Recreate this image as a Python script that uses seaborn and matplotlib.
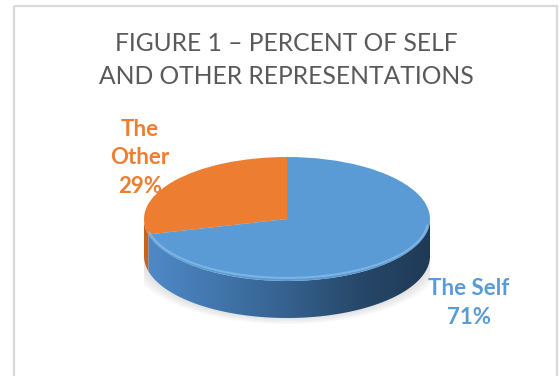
import numpy as np
import matplotlib
matplotlib.use("Agg")
import matplotlib.pyplot as plt
import seaborn as sns
from matplotlib.patches import Polygon, Rectangle, Ellipse
from matplotlib.colors import LinearSegmentedColormap

# ---- data ----
categories = ["The Other", "The Self"]
label_text = ["The\nOther", "The Self"]
values = [29, 71]
colors = ["#ED7D31", "#5B9BD5"]
side_colors = ["#C4641F", None]
title = "FIGURE 1 – PERCENT OF SELF\nAND OTHER REPRESENTATIONS"

sns.set_theme(style="white")
plt.rcParams["font.family"] = ["Lato", "DejaVu Sans"]

W, H = 560, 376
fig = plt.figure(figsize=(W / 100, H / 100), dpi=100)
fig.patch.set_facecolor("white")

# background / frame axes in pixel coordinates
bg = fig.add_axes([0, 0, 1, 1])
bg.set_xlim(0, W)
bg.set_ylim(H, 0)
bg.axis("off")
bg.add_patch(Rectangle((13.5, 5.5), 543, 390, fill=False, edgecolor="#D9D9D9", lw=1.6))

# pie geometry (pixels)
cx, cy, a, b, depth = 287, 219, 143, 62, 37
d = depth / b
ylo, yhi = -1 - d - 0.25, 1.1
ax = fig.add_axes([(cx - a) / W, (H - (cy - ylo * b)) / H, 2 * a / W, (yhi - ylo) * b / H])
ax.set_zorder(2)

# soft shadow under the pie
for i, al in enumerate([0.05, 0.05, 0.05, 0.05]):
    s = 1.0 + 0.025 * (4 - i)
    ax.add_patch(Ellipse((0.0, -d - 0.02), 2 * s, 2 * s * 0.98, facecolor="#808080",
                         alpha=al, edgecolor="none", zorder=0))

wedges, _ = ax.pie(values, colors=colors, startangle=90, counterclock=True, radius=1,
                   wedgeprops=dict(linewidth=0, zorder=3))
for w in wedges:
    w.set_clip_on(False)

blue_side = LinearSegmentedColormap.from_list(
    "side", ["#4F8BC9", "#4276AD", "#35618E", "#27486A", "#1F3A56"])

for w, sc in zip(wedges, side_colors):
    t1, t2 = w.theta1 % 360, w.theta2 % 360
    if t2 <= t1:
        t2 += 360
    lo, hi = max(t1, 180), min(t2, 360)
    if hi <= lo:
        continue
    t = np.radians(np.linspace(lo, hi, 200))
    top = np.column_stack([np.cos(t), np.sin(t)])
    bot = np.column_stack([np.cos(t[::-1]), np.sin(t[::-1]) - d])
    poly = Polygon(np.vstack([top, bot]), closed=True, edgecolor="none",
                   facecolor=sc if sc else "none", zorder=2, clip_on=False)
    ax.add_patch(poly)
    if sc is None:
        grad = np.linspace(0, 1, 256).reshape(1, -1)
        im = ax.imshow(grad, cmap=blue_side, extent=(-1, 1, -1 - d, 0),
                       aspect="auto", zorder=2, origin="lower")
        im.set_clip_path(poly)

# bevel highlight along the front edge of the top face
t = np.radians(np.linspace(192, 355, 200))
ax.plot(0.985 * np.cos(t), 0.93 * np.sin(t) - 0.02, color="#8CC0EE", lw=1.4,
        alpha=0.7, zorder=4, solid_capstyle="round")

ax.set_aspect("auto")
ax.set_xlim(-1, 1)
ax.set_ylim(ylo, yhi)
ax.axis("off")

# labels
pos = [(140, 158), (469, 303)]
for (x, y), lab, v, c in zip(pos, label_text, values, colors):
    bg.text(x, y, f"{lab}\n{v}%", ha="center", va="center", color=c,
            fontsize=16, fontweight="bold", linespacing=1.45)

bg.text(286, 60, title, ha="center", va="center", color="#595959",
        fontsize=17.7, fontweight="normal", linespacing=1.5)

fig.savefig("out.png", dpi=100, facecolor="white")
